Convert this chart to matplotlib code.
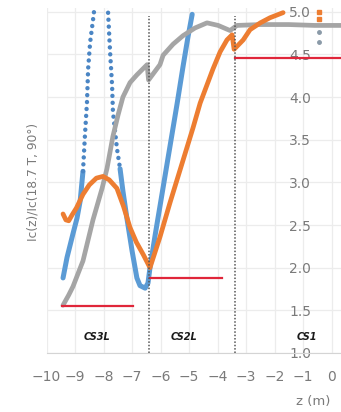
import numpy as np
import matplotlib
matplotlib.use('Agg')
import matplotlib.pyplot as plt

plt.rcParams['font.family'] = ['DejaVu Sans']

# blue series (z in m, Ic ratio)
blue_z = [-9.42, -9.28, -9.07, -8.93, -8.82, -8.72, -8.65, -8.58, -8.54, -8.47, -8.37,
          -8.28, -8.18, -8.08, -7.98, -7.90, -7.84, -7.77, -7.70, -7.67, -7.53, -7.42,
          -7.32, -7.18, -7.00, -6.83, -6.72, -6.54, -6.44, -6.37, -6.19, -6.02, -5.84,
          -5.67, -5.42, -5.21, -5.04, -4.89]
blue_v = [1.88, 2.12, 2.40, 2.58, 2.78, 3.13, 3.56, 3.94, 4.33, 4.64, 4.90,
          5.15, 5.35, 5.42, 5.35, 5.15, 4.99, 4.53, 4.14, 3.83, 3.40, 3.16,
          2.90, 2.58, 2.20, 1.88, 1.79, 1.76, 1.82, 2.00, 2.38, 2.72, 3.08,
          3.42, 3.92, 4.36, 4.70, 4.97]

# orange series
orange_z = [-9.42, -9.32, -9.22, -9.10, -8.95, -8.72, -8.50, -8.25, -8.02, -7.80, -7.53,
            -7.30, -7.07, -6.85, -6.60, -6.37, -6.02, -5.67, -5.21, -4.86, -4.61, -4.16,
            -3.91, -3.67, -3.49, -3.42, -3.10, -2.86, -2.50, -2.16, -1.70]
orange_v = [2.63, 2.56, 2.55, 2.62, 2.70, 2.86, 2.97, 3.05, 3.07, 3.03, 2.93,
            2.72, 2.47, 2.30, 2.15, 2.00, 2.36, 2.76, 3.26, 3.64, 3.93, 4.33,
            4.53, 4.67, 4.73, 4.56, 4.67, 4.79, 4.87, 4.93, 4.99]

# grey series
grey_z = [-9.42, -9.22, -9.07, -8.72, -8.37, -8.05, -7.88, -7.67, -7.49, -7.32, -7.07, -6.83,
          -6.47, -6.42, -6.02, -5.91, -5.56, -5.21, -4.79, -4.37, -3.98, -3.56, -3.32,
          -2.50, -1.50, -0.60, 0.33]
grey_v = [1.56, 1.68, 1.78, 2.08, 2.56, 2.93, 3.16, 3.54, 3.79, 4.00, 4.17, 4.26,
          4.38, 4.20, 4.38, 4.49, 4.62, 4.72, 4.81, 4.87, 4.84, 4.78, 4.84,
          4.85, 4.85, 4.84, 4.84]

# reference levels (red) per coil section
ref_z0 = [-9.45, -6.37, -3.39]
ref_z1 = [-6.95, -3.84, 0.33]
ref_v = [1.55, 1.88, 4.46]

boundaries = [-6.4, -3.4]
sections = ['CS3L', 'CS2L', 'CS1']
section_z = [-8.23, -5.17, -0.86]

xticks = list(range(-10, 1))
yticks = [1.0, 1.5, 2.0, 2.5, 3.0, 3.5, 4.0, 4.5, 5.0]

blue = '#5B9BD5'
orange = '#ED7D31'
grey = '#A5A5A5'
red = '#E0263A'

fig = plt.figure(figsize=(3.41, 4.12), dpi=100)
ax = fig.add_axes([46.5 / 341, 1 - 353 / 412, 294.5 / 341, 345.5 / 412])

ax.set_xlim(-10, 0.33)
ax.set_ylim(1.0, 5.05)
ax.set_xticks(xticks)
ax.set_yticks(yticks)
ax.set_yticklabels(['%.1f' % t for t in yticks])
ax.grid(True, color='#ececec', lw=0.9)
ax.set_axisbelow(True)

for s in ['top', 'right', 'left']:
    ax.spines[s].set_visible(False)
ax.spines['bottom'].set_color('#d4d4d4')
ax.spines['left'].set_position(('data', -0.62))
ax.tick_params(axis='both', length=0, labelsize=10, labelcolor='#7a7a7a')
ax.tick_params(axis='x', pad=12)
ax.tick_params(axis='y', pad=2)

bz = np.array(blue_z)
bv = np.array(blue_v)
left = bz <= -8.72
mid = (bz >= -8.72) & (bz <= -7.42)
right = bz >= -7.42
ax.plot(bz[left], bv[left], color=blue, lw=3.6, solid_capstyle='round')
ax.plot(bz[mid], bv[mid], color='#4a85c4', lw=3.2, linestyle=(0, (0.01, 1.55)),
        dash_capstyle='round')
ax.plot(bz[right], bv[right], color=blue, lw=3.6, solid_capstyle='round')

ax.plot(grey_z, grey_v, color=grey, lw=3.4, solid_capstyle='round')
ax.plot(orange_z, orange_v, color=orange, lw=3.4, solid_capstyle='round')

for z0, z1, v in zip(ref_z0, ref_z1, ref_v):
    ax.plot([z0, z1], [v, v], color=red, lw=1.6)

for b in boundaries:
    ax.plot([b, b], [1.0, 4.95], color='#555555', lw=1.1, linestyle=(0, (1, 1.2)))

# small markers near z = -0.45
ax.plot([-0.45, -0.45], [5.0, 4.92], 's', color=orange, ms=3.5)
ax.plot([-0.45, -0.45], [4.76, 4.65], 'o', color='#8a9aa8', ms=2.5)

for name, z in zip(sections, section_z):
    ax.text(z, 1.19, name, ha='center', va='center', fontsize=7,
            fontweight='bold', fontstyle='italic', color='#1a1a1a')

fig.text(33 / 341, 1 - 182 / 412, 'Ic(z)/Ic(18.7 T, 90°)', rotation=90,
         ha='center', va='center', fontsize=8.8, color='#7a7a7a')
fig.text(313 / 341, 1 - 402 / 412, 'z (m)', ha='center', va='center',
         fontsize=9.5, color='#7a7a7a')

fig.savefig('out.png', dpi=100)
